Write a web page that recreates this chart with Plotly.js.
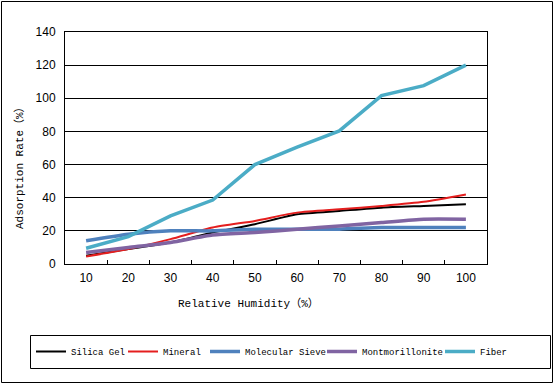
<!DOCTYPE html>
<html><head><meta charset="utf-8">
<script src="https://cdn.plot.ly/plotly-3.0.1.min.js"></script>
<style>html,body{margin:0;padding:0;background:#fff}#chart{width:555px;height:384px}</style>
</head><body><div id="chart"></div>
<script>
const humidity = ['10','20','30','40','50','60','70','80','90','100'];
const silicaGel = [5, 9, 13, 19, 24, 30, 32, 34, 35, 36];
const mineral = [4.5, 9, 15, 22, 26, 31, 33, 35, 37.5, 42];
const molecularSieve = [14, 18, 20, 20, 21, 21, 21, 22, 22, 22];
const montmorillonite = [7, 10, 13, 17.5, 19, 21, 23, 25, 27, 27];
const fiber = [9.5, 16.5, 29, 38.6, 60, 70.5, 80.3, 101.6, 107.6, 120];
const seriesNames = ['Silica Gel','Mineral','Molecular Sieve','Montmorillonite','Fiber'];
const xTitle = 'Relative Humidity（%）';
const yTitle = 'Adsorption Rate（%）';

const mono = 'Liberation Mono, Noto Sans CJK SC, monospace';
const L=65, R=487, T=32, B=264, W=R-L, H=B-T;
const px = p => (p-L)/W, py = p => (B-p)/H;

const legendIds = ['legend','legend2','legend3','legend4','legend5'];
const legendTextStarts = [71, 163, 245, 362, 480];

const mk = (y, i, color, width, shape) => ({
  x: humidity, y: y, name: seriesNames[i], type: 'scatter', mode: 'lines', legend: legendIds[i],
  line: {color: color, width: width, shape: shape || 'linear', smoothing: 0.6}
});
const data = [
  mk(silicaGel, 0, '#000000', 2, 'spline'),
  mk(mineral, 1, '#e41e1e', 2, 'spline'),
  mk(molecularSieve, 2, '#4f81bd', 3.5, 'spline'),
  mk(montmorillonite, 3, '#8064a2', 3.5, 'spline'),
  mk(fiber, 4, '#4bacc6', 3.5)
];

const layout = {
  width: 555, height: 384,
  margin: {l: L, r: 555-R, t: T, b: 384-B},
  paper_bgcolor: '#fff', plot_bgcolor: '#fff',
  showlegend: true,
  xaxis: {type: 'category', range: [-0.5, 9.5], ticks: 'inside', tickson: 'boundaries', ticklen: 4, tickcolor: '#000',
          showline: true, linecolor: '#000', linewidth: 1, mirror: true, showgrid: false,
          ticklabelstandoff: 3,
          tickfont: {family: 'Liberation Sans, sans-serif', size: 12, color: '#000'}},
  yaxis: {range: [0, 140], dtick: 20, ticks: '', showline: true, linecolor: '#000', linewidth: 1, mirror: true,
          showgrid: true, gridcolor: '#000', gridwidth: 1, zeroline: false,
          ticklabelstandoff: 6,
          tickfont: {family: 'Liberation Sans, sans-serif', size: 12, color: '#000'}},
  annotations: [
    {text: xTitle, xref: 'paper', yref: 'paper', x: px(248.5), y: py(303), xanchor: 'center', yanchor: 'middle',
     showarrow: false, font: {family: mono, size: 11, color: '#000'}},
    {text: yTitle, xref: 'paper', yref: 'paper', x: px(19), y: py(165), xanchor: 'center', yanchor: 'middle',
     textangle: -90, showarrow: false, font: {family: mono, size: 11, color: '#000'}}
  ],
  shapes: [
    {type: 'rect', xref: 'paper', yref: 'paper', x0: px(1.5), x1: px(552.5), y0: py(382.5), y1: py(1.5),
     line: {color: '#000', width: 1}},
    {type: 'rect', xref: 'paper', yref: 'paper', x0: px(30.5), x1: px(550.5), y0: py(368.5), y1: py(335.5),
     line: {color: '#000', width: 1}}
  ]
};
legendIds.forEach((id, i) => {
  layout[id] = {orientation: 'h', x: px(legendTextStarts[i] - 40), xanchor: 'left', y: py(351.5), yanchor: 'middle',
                font: {family: mono, size: 9, color: '#000'}, bgcolor: 'rgba(0,0,0,0)', itemwidth: 30};
});
Plotly.newPlot('chart', data, layout, {displayModeBar: false, staticPlot: true});
</script></body></html>
